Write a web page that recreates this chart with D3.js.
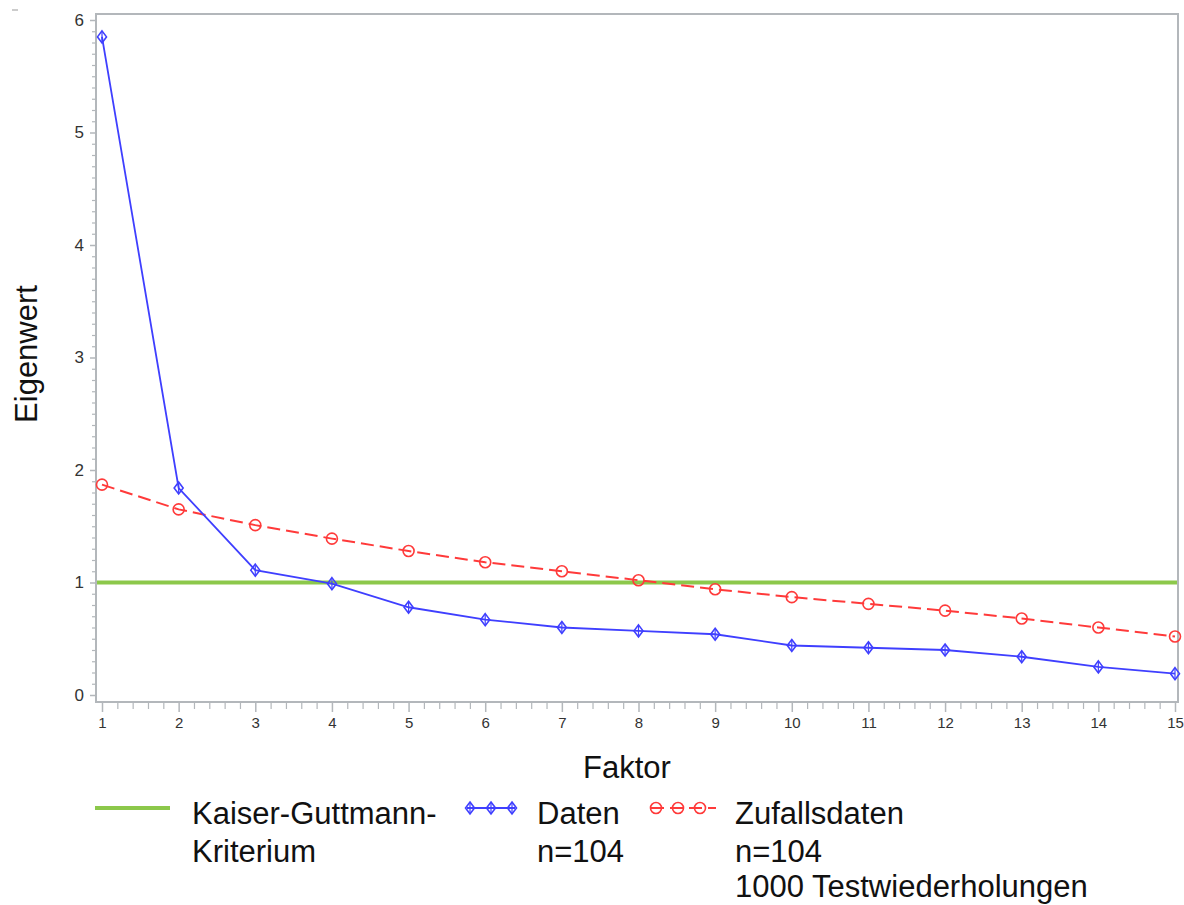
<!DOCTYPE html>
<html>
<head>
<meta charset="utf-8">
<script src="https://cdn.jsdelivr.net/npm/d3@7"></script>
<style>
  html, body { margin: 0; padding: 0; background: #fff; }
  svg { display: block; font-family: "Liberation Sans", Arial, sans-serif; }
</style>
</head>
<body>
<svg id="chart" width="1184" height="905"></svg>
<script>
// ---- data ----
const factors = [1,2,3,4,5,6,7,8,9,10,11,12,13,14,15];
const daten = [5.85,1.84,1.11,0.99,0.78,0.67,0.60,0.57,0.54,0.44,0.42,0.40,0.34,0.25,0.19];
const zufallsdaten = [1.87,1.65,1.51,1.39,1.28,1.18,1.10,1.02,0.94,0.87,0.81,0.75,0.68,0.60,0.52];
const kaiserValue = 1;
const yTickValues = [0,1,2,3,4,5,6];
const xTickValues = [1,2,3,4,5,6,7,8,9,10,11,12,13,14,15];
const legendItems = [
  {key: "kaiser", lines: ["Kaiser-Guttmann-", "Kriterium"]},
  {key: "daten", lines: ["Daten", "n=104"]},
  {key: "zufall", lines: ["Zufallsdaten", "n=104", "1000 Testwiederholungen"]}
];

// ---- layout ----
const svg = d3.select("#chart");
const frame = {left: 96, right: 1178, top: 14, bottom: 702};
const x = d3.scaleLinear().domain([1, 15]).range([102, 1175]);
const y = d3.scaleLinear().domain([0, 6]).range([695, 20]);

const blue = "#3f3fff";
const red = "#ff3a3a";
const green = "#8cc84b";
const axisGray = "#b3b7bb";

// tiny mark top-left
svg.append("line").attr("x1", 12).attr("x2", 18).attr("y1", 10).attr("y2", 10)
  .attr("stroke", "#999").attr("stroke-width", 1);

// frame
svg.append("rect")
  .attr("x", frame.left).attr("y", frame.top)
  .attr("width", frame.right - frame.left).attr("height", frame.bottom - frame.top)
  .attr("fill", "none").attr("stroke", axisGray).attr("stroke-width", 2);

// y axis minor ticks
const yMinor = d3.range(0, 60.5).map(d => d / 10).filter(v => Math.abs(v - Math.round(v)) > 1e-6);
const yMinorAxis = d3.axisLeft(y).tickValues(yMinor).tickSize(4).tickFormat("");
const gyMinor = svg.append("g").attr("transform", `translate(${frame.left},0)`).call(yMinorAxis);
gyMinor.select(".domain").remove();
gyMinor.selectAll("line").attr("stroke", axisGray).attr("stroke-width", 1.2);

// y axis major
const yAxis = d3.axisLeft(y).tickValues(yTickValues).tickSize(6).tickPadding(6).tickFormat(d3.format("d"));
const gy = svg.append("g").attr("transform", `translate(${frame.left},0)`).call(yAxis);
gy.select(".domain").remove();
gy.selectAll("line").attr("stroke", axisGray).attr("stroke-width", 1.5);
gy.selectAll("text").attr("font-size", 17).attr("fill", "#333")
  .attr("font-family", "Liberation Sans, Arial, sans-serif");

// x axis minor
const xMinor = d3.range(10, 150.5, 2).map(d => d / 10).filter(v => Math.abs(v - Math.round(v)) > 1e-6);
const xMinorAxis = d3.axisBottom(x).tickValues(xMinor).tickSize(7).tickFormat("");
const gxMinor = svg.append("g").attr("transform", `translate(0,${frame.bottom})`).call(xMinorAxis);
gxMinor.select(".domain").remove();
gxMinor.selectAll("line").attr("stroke", axisGray).attr("stroke-width", 1.2);

// x axis major
const xAxis = d3.axisBottom(x).tickValues(xTickValues).tickSize(10).tickPadding(5).tickFormat(d3.format("d"));
const gx = svg.append("g").attr("transform", `translate(0,${frame.bottom})`).call(xAxis);
gx.select(".domain").remove();
gx.selectAll("line").attr("stroke", axisGray).attr("stroke-width", 1.5);
gx.selectAll("text").attr("font-size", 15).attr("fill", "#333")
  .attr("font-family", "Liberation Sans, Arial, sans-serif");

// axis titles
svg.append("text").attr("x", 627).attr("y", 778).attr("text-anchor", "middle")
  .attr("font-size", 31).attr("fill", "#111").text("Faktor");
svg.append("text").attr("transform", "translate(37,354) rotate(-90)")
  .attr("text-anchor", "middle").attr("font-size", 31).attr("fill", "#111").text("Eigenwert");

// Kaiser line
svg.append("line")
  .attr("x1", frame.left + 1).attr("x2", frame.right - 1)
  .attr("y1", y(kaiserValue)).attr("y2", y(kaiserValue))
  .attr("stroke", green).attr("stroke-width", 4);

// series
const line = d3.line().x((d, i) => x(factors[i])).y(d => y(d));

svg.append("path").datum(zufallsdaten).attr("d", line)
  .attr("fill", "none").attr("stroke", red).attr("stroke-width", 2)
  .attr("stroke-dasharray", "13,6");

svg.append("path").datum(daten).attr("d", line)
  .attr("fill", "none").attr("stroke", blue).attr("stroke-width", 1.8);

function diamond(g, cx, cy, color) {
  g.append("path")
    .attr("d", `M${cx},${cy - 6}L${cx + 4.5},${cy}L${cx},${cy + 6}L${cx - 4.5},${cy}Z`)
    .attr("fill", "none").attr("stroke", color).attr("stroke-width", 1.6);
  g.append("line").attr("x1", cx).attr("x2", cx).attr("y1", cy - 5).attr("y2", cy + 5)
    .attr("stroke", color).attr("stroke-width", 1.2);
}
function circle(g, cx, cy, color) {
  g.append("circle").attr("cx", cx).attr("cy", cy).attr("r", 5.5)
    .attr("fill", "none").attr("stroke", color).attr("stroke-width", 1.6);
}

const gRed = svg.append("g");
zufallsdaten.forEach((d, i) => circle(gRed, x(factors[i]), y(d), red));
const gBlue = svg.append("g");
daten.forEach((d, i) => diamond(gBlue, x(factors[i]), y(d), blue));

// legend
const lgY = 808;
const lg = svg.append("g");
lg.append("line").attr("x1", 95).attr("x2", 170).attr("y1", lgY).attr("y2", lgY)
  .attr("stroke", green).attr("stroke-width", 4);

lg.append("line").attr("x1", 467).attr("x2", 515).attr("y1", lgY).attr("y2", lgY)
  .attr("stroke", blue).attr("stroke-width", 1.8);
[470, 491, 512].forEach(cx => diamond(lg, cx, lgY, blue));

lg.append("line").attr("x1", 651).attr("x2", 716).attr("y1", lgY).attr("y2", lgY)
  .attr("stroke", red).attr("stroke-width", 2).attr("stroke-dasharray", "13,6");
[656, 678, 700].forEach(cx => circle(lg, cx, lgY, red));

const textX = {kaiser: 192, daten: 537, zufall: 735};
const lineOffsets = [0, 38, 35];
legendItems.forEach(item => {
  const t = lg.append("text").attr("x", textX[item.key]).attr("y", 824)
    .attr("font-size", 31).attr("fill", "#111");
  item.lines.forEach((s, i) => {
    t.append("tspan").attr("x", textX[item.key]).attr("dy", lineOffsets[i]).text(s);
  });
});
</script>
</body>
</html>
